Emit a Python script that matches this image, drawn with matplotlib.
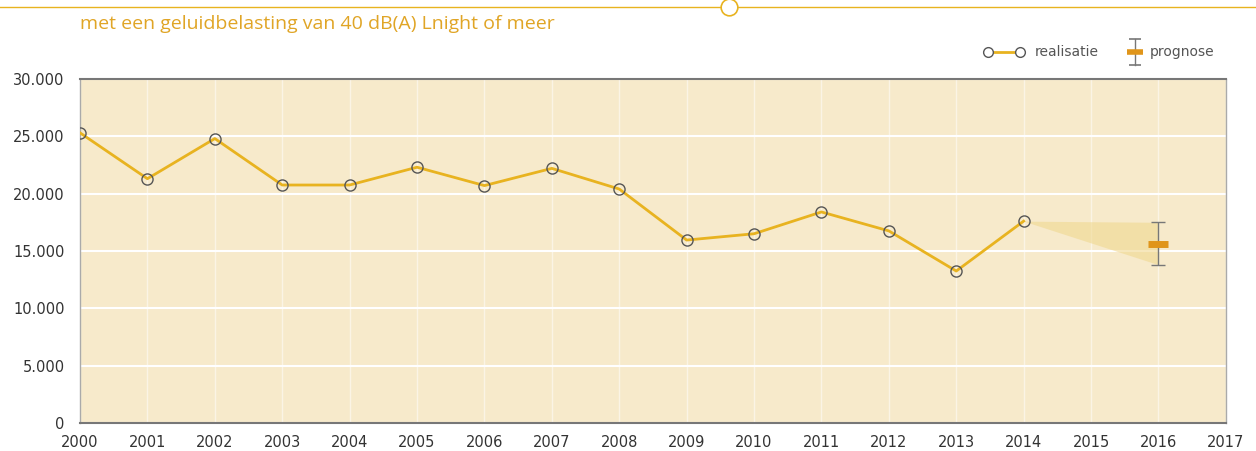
import numpy as np
import matplotlib.pyplot as plt
from matplotlib.lines import Line2D

# realisatie
years = [2000, 2001, 2002, 2003, 2004, 2005, 2006, 2007,
         2008, 2009, 2010, 2011, 2012, 2013, 2014]
values = [25300, 21300, 24800, 20750, 20750, 22300, 20700, 22200,
          20400, 15950, 16500, 18400, 16750, 13250, 17600]

# prognose 2016 with range
prog_year = 2016
prog_mid = 15600
prog_low = 13800
prog_high = 17500

gold = "#e8b320"
orange = "#e0951a"
bg = "#f7eacb"
grey = "#555555"

fig = plt.figure(figsize=(12.56, 4.51), dpi=100)
ax = fig.add_axes([0.0637, 0.0621, 0.9123, 0.7629])
ax.set_facecolor(bg)

ax.set_xlim(2000, 2017)
ax.set_ylim(0, 30000)

# grid
ax.set_yticks(np.arange(0, 30001, 5000))
ax.set_xticks(np.arange(2000, 2018))
ax.grid(True, axis="y", color="white", lw=1.5)
ax.grid(True, axis="x", color="white", lw=1, alpha=0.5)
ax.set_axisbelow(True)

# prognose band
ax.fill_between([years[-1], prog_year], [values[-1], prog_high],
                [values[-1], prog_low], color="#f0d890", alpha=0.6, lw=0)

ax.plot(years, values, color=gold, lw=2, marker="o", ms=8,
        mfc="none", mec=grey, mew=1, zorder=3)

ax.errorbar([prog_year], [prog_mid],
            yerr=[[prog_mid - prog_low], [prog_high - prog_mid]],
            fmt="none", ecolor="#777777", elinewidth=1, capsize=5, zorder=3)
ax.plot([prog_year], [prog_mid], marker="_", ms=14, mew=5, color=orange, zorder=4)

for s in ["top", "bottom"]:
    ax.spines[s].set_color("#777777")
    ax.spines[s].set_linewidth(1.5)
for s in ["left", "right"]:
    ax.spines[s].set_color("#aaaaaa")
    ax.spines[s].set_linewidth(1)

ax.tick_params(length=0, labelsize=10.5, labelcolor="#333333")
ax.tick_params(axis="y", pad=11)
ax.tick_params(axis="x", pad=9)
ax.set_yticklabels([f"{v:,.0f}".replace(",", ".") for v in np.arange(0, 30001, 5000)])
ax.set_xticklabels([str(y) for y in range(2000, 2018)])

# header line with circle
fig.add_artist(Line2D([0, 1], [1 - 7 / 451, 1 - 7 / 451], color=gold, lw=1,
                      transform=fig.transFigure))
fig.add_artist(Line2D([729 / 1256], [1 - 7 / 451], marker="o", ms=12, mfc="white",
                      mec=gold, mew=1.2, transform=fig.transFigure))
fig.text(80 / 1256, 1 - 24 / 451, "met een geluidbelasting van 40 dB(A) Lnight of meer",
         color="#e0a526", fontsize=14, family="Open Sans", va="center")

# legend drawn by hand
ly = 1 - 52 / 451
W = 1256
fig.add_artist(Line2D([988 / W, 1020 / W], [ly, ly], color=gold, lw=2,
                      marker="o", ms=7, mfc="white", mec=grey, mew=1,
                      transform=fig.transFigure))
fig.text(1035 / W, ly, "realisatie", fontsize=10, color="#555555",
         va="center", ha="left")
fig.add_artist(Line2D([1135 / W, 1135 / W], [ly - 13 / 451, ly + 13 / 451],
                      color="#777777", lw=1, marker="_", ms=8, mew=1.2,
                      transform=fig.transFigure))
fig.add_artist(Line2D([1135 / W], [ly], marker="_", ms=12, mew=4, color=orange,
                      transform=fig.transFigure))
fig.text(1150 / W, ly, "prognose", fontsize=10, color="#555555",
         va="center", ha="left")

fig.savefig("out.png", dpi=100)
